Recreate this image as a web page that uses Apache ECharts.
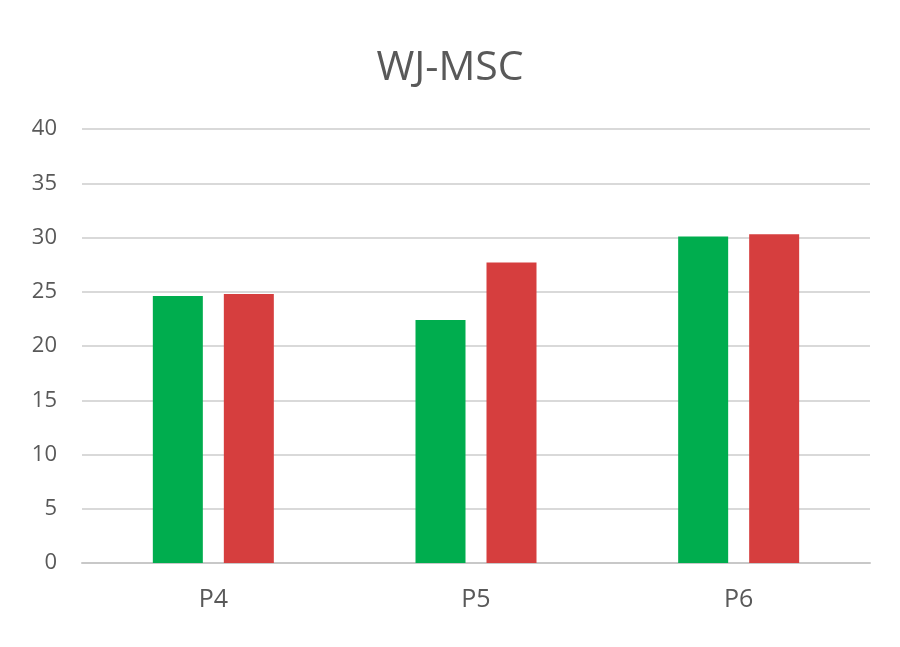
<!DOCTYPE html>
<html>
<head>
<meta charset="utf-8">
<script src="https://cdn.jsdelivr.net/npm/echarts@6/dist/echarts.min.js"></script>
<style>
  html, body { margin: 0; padding: 0; background: #fff; }
  #chart { width: 900px; height: 647px; }
</style>
</head>
<body>
<div id="chart"></div>
<script>
var categories = ['P4', 'P5', 'P6'];
var greenValues = [24.6, 22.4, 30.1];
var redValues = [24.8, 27.7, 30.3];
var yTicks = { min: 0, max: 40, interval: 5 };

var chart = echarts.init(document.getElementById('chart'));
chart.setOption({
    animation: false,
    textStyle: { fontFamily: 'Open Sans' },
    title: {
        text: 'WJ-MSC',
        left: 'center',
        top: 43,
        textStyle: { fontSize: 41, fontWeight: 'normal', color: '#595959', fontFamily: 'Open Sans' }
    },
    grid: { left: 82, right: 30, top: 129, bottom: 84 },
    xAxis: {
        type: 'category',
        data: categories,
        axisLine: { lineStyle: { color: '#c8c8c8', width: 2 } },
        axisTick: { show: false },
        axisLabel: { fontSize: 25, color: '#595959', margin: 24 }
    },
    yAxis: {
        type: 'value',
        min: yTicks.min,
        max: yTicks.max,
        interval: yTicks.interval,
        axisLine: { show: false },
        axisTick: { show: false },
        splitLine: { lineStyle: { color: '#d9d9d9', width: 2 } },
        axisLabel: { fontSize: 22, color: '#595959', margin: 25 }
    },
    series: [
        {
            name: 'A',
            type: 'bar',
            data: greenValues,
            barWidth: 50,
            barGap: '42%',
            itemStyle: { color: '#00ad4e' }
        },
        {
            name: 'B',
            type: 'bar',
            data: redValues,
            barWidth: 50,
            itemStyle: { color: '#d63e3e' }
        }
    ]
});
</script>
</body>
</html>
